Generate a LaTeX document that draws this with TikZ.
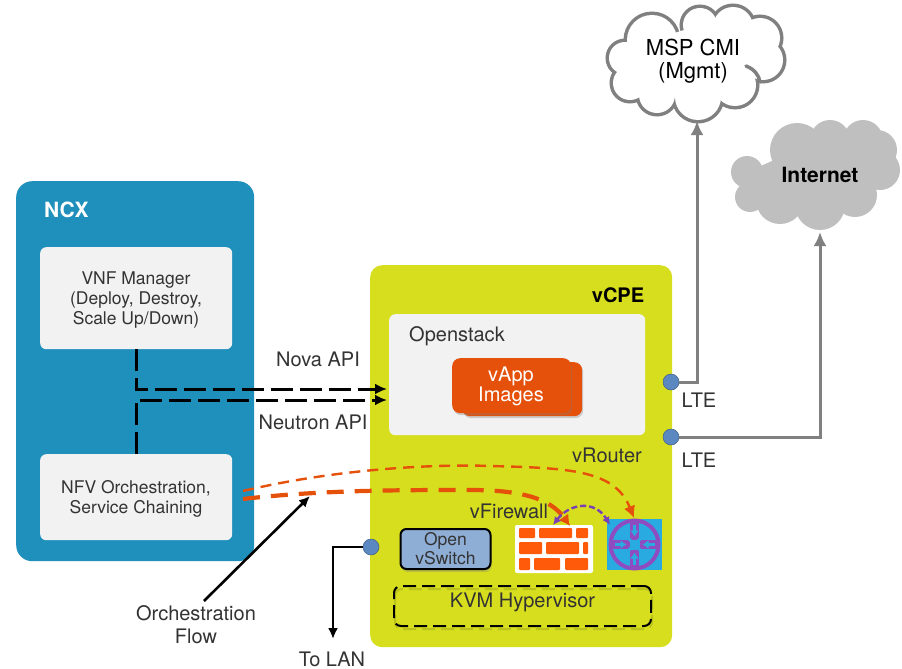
\documentclass[tikz,border=0pt]{standalone}
\usepackage{fontspec}
\setmainfont{TeX Gyre Heros}
\usetikzlibrary{calc,arrows.meta,shadows}
\definecolor{ncxblue}{HTML}{1F8FBC}
\definecolor{panel}{HTML}{F2F2F2}
\definecolor{cpe}{HTML}{D6DE1E}
\definecolor{vorange}{HTML}{E5500A}
\definecolor{brick}{HTML}{FF5A0A}
\definecolor{dotblue}{HTML}{5B88C0}
\definecolor{cloudline}{HTML}{808080}
\definecolor{cloudfill}{HTML}{BFBFBF}
\definecolor{routerblue}{HTML}{29ABE2}
\definecolor{routerviolet}{HTML}{8E4CC0}
\definecolor{arrowviolet}{HTML}{7B3FB5}
\definecolor{switchblue}{HTML}{8FAED6}
\definecolor{textgrey}{HTML}{333333}
\tikzset{
  x=1pt,y=-1pt,
  every node/.style={font=\fontsize{20}{23}\selectfont,text=textgrey,align=center,inner sep=0pt},
  boxpanel/.style={fill=panel,rounded corners=6pt,anchor=north west},
  apidash/.style={draw=black,line width=3pt,dash pattern=on 22pt off 7pt,-{Latex[length=12pt,width=11pt]}},
  greyflow/.style={draw=cloudline,line width=3pt,-{Latex[length=14pt,width=13pt]}},
  orangeflow/.style={draw=vorange,dashed,-{Latex[length=12pt,width=12pt]}},
  dotnode/.style={circle,fill=dotblue,draw=dotblue!70!black,line width=.5pt,minimum size=16pt},
  blackflow/.style={draw=black,line width=2.6pt,-{Latex[length=11pt,width=10pt]}},
}
\begin{document}
\begin{tikzpicture}
\useasboundingbox (0,0) rectangle (902,669);
% containers
\node[fill=ncxblue,rounded corners=16pt,minimum width=238pt,minimum height=380pt,anchor=north west] (ncx) at (16,181) {};
\node[fill=cpe,rounded corners=12pt,minimum width=302pt,minimum height=382pt,anchor=north west] (vcpe) at (370,265) {};
\node[text=white,anchor=west,font=\fontsize{21}{23}\selectfont\bfseries] (ncxlabel) at (44,210) {NCX};
\node[text=black,anchor=center,font=\fontsize{20}{23}\selectfont\bfseries] (vcpelabel) at (618,295) {vCPE};
\node[boxpanel,minimum width=192pt,minimum height=102pt] (vnf) at (40,247) {};
\node[font=\fontsize{17.5}{20}\selectfont] (vnftext) at (136,300) {VNF Manager\\(Deploy, Destroy,\\Scale Up/Down)};
\node[boxpanel,minimum width=192pt,minimum height=86pt] (nfv) at (40,454) {};
\node[font=\fontsize{17.5}{20}\selectfont] (nfvtext) at (136,499) {NFV Orchestration,\\Service Chaining};
\node[boxpanel,minimum width=256pt,minimum height=121pt] (os) at (389,314) {};
\node[anchor=west] (ostext) at (409,336) {Openstack};
% vApp
\node[fill=vorange,rounded corners=8pt,minimum width=120pt,minimum height=54pt,anchor=north west,drop shadow={shadow xshift=1pt,shadow yshift=-2pt,opacity=.35}] (appback) at (462,362) {};
\node[fill=vorange,rounded corners=8pt,minimum width=119pt,minimum height=55pt,anchor=north west,drop shadow={shadow xshift=1pt,shadow yshift=-2pt,opacity=.35}] (appfront) at (452,358) {};
\node[text=white,font=\fontsize{20}{20}\selectfont] (apptext) at (511,386) {vApp\\Images};
% clouds: outlined discs, then the same discs in white over them
\foreach \cx/\cy/\cr in {625/58/16,630/83/17,657/95/18,698/97/23,735/85/21,763/60/20,760/38/20,733/27/20,700/25/17,652/40/25}
  \draw[cloudline,line width=7pt] (\cx,\cy) circle (\cr pt);
\foreach \cx/\cy/\cr in {625/58/16,630/83/17,657/95/18,698/97/23,735/85/21,763/60/20,760/38/20,733/27/20,700/25/17,652/40/25}
  \fill[white] (\cx,\cy) circle (\cr pt);
\fill[white] (625,58) -- (630,83) -- (657,95) -- (698,97) -- (735,85) -- (763,60) -- (760,38) -- (733,27) -- (700,25) -- (652,40) -- cycle;
\draw[cloudline,line width=3.5pt,line cap=round] (746,66) .. controls (754,69) and (759,75) .. (760,82);
\node[text=black,font=\fontsize{22}{23}\selectfont] (mspcmi) at (693,61) {MSP CMI\\(Mgmt)};
\foreach \cx/\cy/\cr in {747/172/16,750/197/15,780/200/24,820/205/25,855/195/22,880/170/20,877/150/20,863/140/20,830/140/20,797/150/27}
  \fill[cloudfill] (\cx,\cy) circle (\cr pt);
\fill[cloudfill] (747,172) -- (750,197) -- (780,200) -- (820,205) -- (855,195) -- (880,170) -- (877,150) -- (863,140) -- (830,140) -- (797,150) -- cycle;
\node[text=black,font=\fontsize{21}{23}\selectfont\bfseries] (internet) at (820,175) {Internet};
\coordinate (mspin) at (697,121);
\coordinate (inetin) at (820,232);
% API arrows
\coordinate (novain) at (387,389);
\coordinate (neutronin) at (387,400);
\draw[apidash] (vnf.south) |- (novain);
\draw[apidash] (nfv.north) |- (neutronin);
\node (novatext) at (318,359) {Nova API};
\node (neutrontext) at (313,422) {Neutron API};
% LTE dots
\node[dotnode] (lte1) at (671,382) {};
\node[dotnode] (lte2) at (671,437) {};
\node[dotnode] (lan) at (371,547) {};
\draw[greyflow] (lte1) -| (mspin);
\draw[greyflow] (lte2) -| (inetin);
\node (lte1text) at (699,400) {LTE};
\node (lte2text) at (699,460) {LTE};
\coordinate (lanout) at (333,639);
\draw[blackflow] (lan) -| (lanout);
\node (lantext) at (332,659) {To LAN};
% labels
\node (vroutertext) at (607,455) {vRouter};
\node (vfwtext) at (509,511) {vFirewall};
% vSwitch, hypervisor
\node[fill=switchblue,draw=black,line width=2pt,rounded corners=6pt,minimum width=90pt,minimum height=40pt,drop shadow={shadow xshift=1pt,shadow yshift=-3pt,opacity=.3},font=\fontsize{17.5}{19}\selectfont] (vswitch) at (445.5,549) {Open\\vSwitch};
\draw[black,opacity=.12,line width=2pt,dash pattern=on 13pt off 6pt,rounded corners=7pt] (395,589) rectangle (652,629);
\node[draw=black,line width=2pt,dash pattern=on 13pt off 6pt,rounded corners=7pt,minimum width=257pt,minimum height=40pt] (kvm) at (522.5,606) {};
\node (kvmtext) at (522.5,602) {KVM Hypervisor};
% firewall
\node[fill=white,rounded corners=2pt,minimum width=78pt,minimum height=48pt] (fw) at (554,549) {};
\foreach \xa/\ya/\xb/\yb in {519/528/535/538,539/528/572/538,576/528/588/538,
  519/542/542/554,546/542/579/554,583/542/588/554,
  519/558/530/570,534/558/560/570,565/558/588/570}
  \fill[brick,rounded corners=1pt] (\xa,\ya) rectangle (\xb,\yb);
% router
\node[fill=routerblue,minimum width=55pt,minimum height=51pt] (router) at (634.5,544.5) {};
\draw[routerviolet,line width=4pt] (router.center) circle (24pt);
\foreach \dx/\dy in {0/-1,0/1,-1/0,1/0}{
  \draw[routerviolet,line width=9pt] ($(router.center)+(24*\dx,24*\dy)$) -- ($(router.center)+(5*\dx,5*\dy)$);
  \draw[routerblue,line width=3.5pt,-{Latex[length=6pt,width=9pt]}] ($(router.center)+(20*\dx,20*\dy)$) -- ($(router.center)+(8*\dx,8*\dy)$);
}
\draw[routerblue,line width=3pt] ($(router.center)+(-13,-13)$) -- ($(router.center)+(13,13)$) ($(router.center)+(13,-13)$) -- ($(router.center)+(-13,13)$);
% flows
\coordinate (fwin) at (570,526);
\coordinate (rtin) at (634,518);
\coordinate (thinstart) at (243,491);
\coordinate (thickstart) at (243,499);
\draw[orangeflow,line width=2.4pt,dash pattern=on 11pt off 7pt] (thinstart) .. controls (340,468) and (440,464) .. (490,466) .. controls (570,468) and (615,470) .. (rtin);
\draw[orangeflow,line width=4.2pt,dash pattern=on 17pt off 11pt,-{Latex[length=11pt,width=12pt]}] (thickstart) .. controls (320,490) and (400,490) .. (470,490) .. controls (520,490) and (550,498) .. (fwin);
\draw[arrowviolet,line width=2.4pt,dash pattern=on 6pt off 3pt,{Latex[length=8pt,width=8pt]}-{Latex[length=8pt,width=8pt]}] (553,525) .. controls (570,503) and (595,500) .. (610,525);
% orchestration
\coordinate (orchin) at (310,496);
\node (orchtext) at (196,625) {Orchestration\\Flow};
\draw[blackflow] (204,601) -- (orchin);
\end{tikzpicture}
\end{document}
